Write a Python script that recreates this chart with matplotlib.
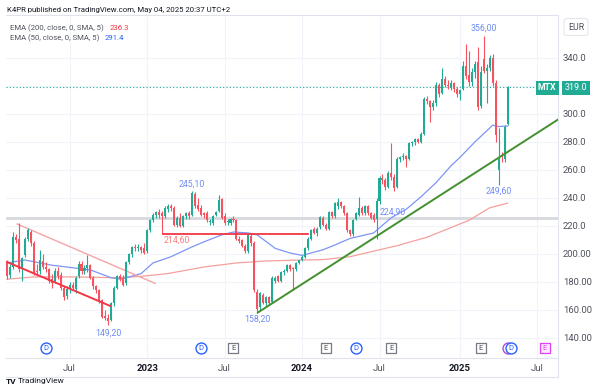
import numpy as np
import pandas as pd
import matplotlib
matplotlib.use("Agg")
import matplotlib.pyplot as plt
from matplotlib.lines import Line2D
from matplotlib.transforms import blended_transform_factory

plt.rcParams['font.family'] = ['Roboto', 'DejaVu Sans']

# ---- weekly OHLC, MTX (EUR), first candle week of 2022-02-07 ----
opens = [194, 185, 191, 212, 211, 189, 199, 211, 216, 208, 188, 188, 195, 191, 189, 182, 180, 188, 185, 176,
         170, 175, 178, 175, 184, 193, 188, 190, 192, 183, 177, 174, 167, 156, 154, 153, 165, 176, 184, 183,
         179, 194, 200, 205, 204, 205, 204, 202, 217, 224, 228, 230, 229, 227, 232, 234, 233, 221, 226, 220,
         227, 229, 228, 243, 235, 233, 229, 229, 223, 222, 228, 231, 239, 227, 223, 222, 225, 224, 211, 210,
         206, 202, 213, 208, 173, 162, 171, 165, 169, 166, 181, 184, 181, 187, 188, 192, 190, 189, 193.6, 195.7,
         198, 204, 211, 218, 215, 219, 226, 221, 218, 230, 227, 234, 237, 234, 229, 217, 214, 225, 228, 233,
         229, 234, 229, 228, 225, 238, 254, 253, 248, 258, 255, 248, 268, 269, 270, 268, 279, 280, 282, 280,
         286, 311, 309, 305, 308, 321, 315, 325, 321, 319, 322, 318, 314, 318, 334, 328, 323, 330, 337, 306,
         339, 331, 333, 340, 322, 260, 271, 268, 293]
highs = [196, 193, 216, 214, 222, 198, 212, 218.6, 217, 209, 193, 203, 200, 194, 190, 186, 190, 191, 187, 177,
         177, 180, 180, 184, 195, 195, 192, 199, 193, 184, 178, 175, 168, 160, 157, 166, 177, 185, 186, 185,
         195, 201, 206, 207, 207, 206, 208, 218, 225, 229, 231, 232, 231, 234, 236, 236, 234, 227, 229, 228,
         230, 231, 245.1, 244, 240, 235, 230, 231, 225, 228, 231, 242, 240, 229, 225, 226, 227, 225, 213, 211,
         207, 214, 215, 209, 175, 173, 172, 170, 170, 184, 184, 185, 188, 189, 193, 193, 191, 194, 196, 199,
         205, 212, 218, 219, 219, 227, 227, 222, 231, 231, 237, 240, 238, 235, 230, 218, 225, 230, 240.7, 234,
         235, 235, 230, 229, 240, 256, 257, 254, 259, 279, 257, 269, 270, 272, 271, 280, 281, 283, 283, 287,
         312, 313, 310, 310, 323, 322, 333, 327, 324, 324, 323, 319, 318, 338, 350, 345, 333, 338, 348, 334,
         356, 336, 342, 343, 324, 290, 273, 292, 320]
lows = [182, 183, 189, 208, 187, 181, 198, 209, 206, 185, 184, 186, 189, 187, 179, 176, 179, 182, 174, 167,
        168, 172, 174, 172, 183, 186, 186, 187, 182, 175, 172, 165, 154, 153, 149.2, 152, 163, 175, 181, 177,
        178, 193, 198, 202, 202, 201, 200, 201, 216, 223, 226, 226, 214.6, 226, 230, 231, 220, 219, 219, 219,
        225, 225, 227, 233, 231, 227, 226, 223, 221, 221, 227, 230, 225, 221, 221, 221, 223, 210, 208, 205,
        201, 201, 206, 173, 158.2, 160, 164, 163, 164, 165, 179, 180, 180, 185, 187, 188, 174, 188, 193, 195,
        197, 203, 210, 214, 213, 218, 220, 217, 217, 226, 226, 232, 233, 228, 216, 213, 213, 224, 227, 228,
        228, 228, 225, 223, 211, 236, 250, 246, 247, 253, 245, 247, 266, 267, 262, 267, 277, 278, 279, 279,
        285, 307, 294, 303, 306, 312, 314, 319, 318, 317, 316, 312, 310, 317, 325, 320, 320, 326, 303, 304,
        329, 308, 331, 320, 280, 249.6, 266, 266, 292]
closes = [184, 191, 212, 210, 189, 197, 211, 217, 208, 186, 187, 196, 191, 189, 181, 179, 188, 184, 176, 169,
          175, 178, 176, 183, 193, 188, 190, 192, 183, 177, 174, 167, 155, 154, 152, 165, 176, 184, 182, 178,
          194, 200, 205, 204, 205, 203, 201, 217, 224, 228, 230, 228, 227, 233, 234.5, 233, 221, 226, 220, 227,
          229, 227, 243.6, 234, 232, 228, 228, 224, 223, 227, 230, 238.6, 226, 222, 223, 225, 224, 211, 209, 206,
          202, 213.6, 208, 174, 161, 172, 165, 169, 165, 183, 183, 181, 187, 188, 192, 189, 189, 193.6, 195.7, 198,
          204, 211, 217, 215, 218, 226.6, 221, 218, 230, 227, 236.4, 237, 234, 229, 217, 214, 224, 229, 233, 229,
          234, 229, 226, 224, 238, 254, 253, 248, 258, 255, 247, 268, 269, 270, 268, 279, 280, 282, 280, 286,
          311, 309, 305, 308, 321, 314, 325, 321, 320, 322, 318, 314, 317, 334, 327, 323, 330, 336, 305, 330,
          331, 333, 340, 322, 285, 268, 269, 291, 319]

# EMA(200) and EMA(50): (week index, value)
ema200_idx = [0, 9, 24, 37, 45, 54, 66, 77, 87, 95, 106, 115, 131, 141, 148, 155, 162, 168]
ema200_val = [182, 183.6, 183.6, 183, 184, 186, 190.7, 193.6, 195, 195.5, 196, 198, 206, 212, 218, 224, 233, 236.3]
ema50_idx = [0, 6, 15, 20, 28, 35, 38, 41, 45, 49, 55, 62, 66, 72, 76, 81, 84, 87, 90, 95, 99, 106, 110, 115,
             123, 129, 134, 139, 144, 149, 152, 157, 161, 163, 165, 168]
ema50_val = [193.6, 195.7, 192, 190.7, 188.6, 183, 182, 183.6, 186, 193.6, 198, 205, 208.6, 213.6, 215.7, 215,
             213.6, 208.8, 204, 200.7, 199, 203, 206.4, 211, 215, 226, 232, 241, 251, 263, 269, 280, 288, 292,
             291, 291.4]

price_labels = ["149,20", "245,10", "158,20", "224,90", "356,00", "249,60"]
label_idx = [34, 62, 84, 124, 160, 165]
label_val = [149.2, 245.1, 158.2, 224.9, 356.0, 249.6]

div_dates = ["2022-05-09", "2023-05-08", "2024-05-06", "2025-05-05"]
earn_dates = ["2023-07-24", "2024-02-26", "2024-07-29", "2025-02-24"]
next_earn = "2025-07-24"

price_ticks = [140, 160, 180, 200, 220, 240, 260, 280, 300, 320, 340]
price_tick_labels = ["140.00", "160.00", "180.00", "200.00", "220.0", "240.0", "260.0", "280.0", "300.0", "", "340.0"]
date_ticks = ["2022-07-04", "2023-01-02", "2023-07-03", "2024-01-01", "2024-07-01", "2025-01-06", "2025-07-07"]
date_tick_labels = ["Jul", "2023", "Jul", "2024", "Jul", "2025", "Jul"]

start = pd.Timestamp("2022-02-07")
def week_index(d):
    return (pd.Timestamp(d) - start).days / 7.0

# ---- figure ----
W, H = 600, 392
def fx(px):
    return px / W
def fy(py):
    return 1 - py / H

UP, DOWN = "#22ab94", "#f7525f"
GRID = "#f0f3fa"
BORDER = "#e0e3eb"
TXT = "#131722"

fig = plt.figure(figsize=(6, 3.92), dpi=100)
ax = fig.add_axes([fx(6), fy(358), fx(558) - fx(6), fy(15) - fy(358)])
ax.set_xlim(-0.34, 184.9)
ax.set_ylim(125.7, 370.7)

idx = np.arange(len(closes))
o, h, l, c = map(np.array, (opens, highs, lows, closes))
cols = np.where(c >= o, UP, DOWN)
ax.vlines(idx, l, h, colors=cols, lw=0.8, zorder=3)
body = np.maximum(np.abs(c - o), 0.5)
ax.bar(idx, body, bottom=np.minimum(o, c), width=0.68, color=cols, zorder=4, linewidth=0)

# indicators
ax.plot(ema200_idx, ema200_val, color="#f4a09d", lw=0.9, zorder=2)
ax.plot(ema50_idx, ema50_val, color="#7d95f5", lw=0.9, zorder=2)

# drawings
ax.axhline(226.0, color="#d6d8de", lw=2.0, zorder=1)
ax.plot([3.4, 49.7], [221.4, 179.0], color="#f7a4a6", lw=1.0, zorder=2)
ax.plot([0.0, 34.6], [194.3, 162.9], color="#f23645", lw=1.4, zorder=5)
ax.plot([52.3, 101.0], [214.6, 214.6], color="#f23645", lw=1.3, zorder=5)
ax.plot([84.2, 190.0], [158.2, 303.0], color="#43902f", lw=1.4, zorder=5)
ax.axhline(closes[-1], color=UP, lw=0.8, ls=(0, (1, 2)), zorder=1)

# price labels
offsets = [(0, -8), (0, 7), (0, -7), (16, 7), (0, 7), (0, -7)]
for t, xi, yv, off in zip(price_labels, label_idx, label_val, offsets):
    ax.annotate(t, (xi, yv), xytext=(off[0] * 0.72, off[1] * 0.72), textcoords="offset points",
                ha="center", va="center", fontsize=6.3, color="#6f8cf6", zorder=6)
ax.annotate("214,60", (57, 214.6), xytext=(0, -5), textcoords="offset points",
            ha="center", va="center", fontsize=6.3, color="#f77c80", zorder=6)

# event markers along the bottom of the pane
trans = blended_transform_factory(ax.transData, ax.transAxes)
ym = (358 - 348) / 343.0
for d in div_dates:
    xi = week_index(d)
    if d == div_dates[-1]:
        ax.scatter([xi - 1.0], [ym], s=62, marker="o", facecolor="white", edgecolor="#b04ad8",
                   lw=1.0, transform=trans, zorder=7, clip_on=False)
    ax.scatter([xi], [ym], s=62, marker="o", facecolor="white", edgecolor="#2962ff", lw=1.0,
               transform=trans, zorder=8, clip_on=False)
    ax.text(xi, ym, "D", transform=trans, ha="center", va="center", fontsize=5.5, color="#2962ff", zorder=9)
for d in earn_dates:
    xi = week_index(d)
    ax.scatter([xi], [ym], s=55, marker="s", facecolor="white", edgecolor="#787b86", lw=0.9,
               transform=trans, zorder=8, clip_on=False)
    ax.text(xi, ym, "E", transform=trans, ha="center", va="center", fontsize=5.5, color="#50535e", zorder=9)
xi = week_index(next_earn)
ax.scatter([xi], [ym], s=55, marker="s", facecolor="#fbeafe", edgecolor="#e040fb", lw=0.9,
           transform=trans, zorder=8, clip_on=False)
ax.text(xi, ym, "E", transform=trans, ha="center", va="center", fontsize=5.5, color="#e040fb", zorder=9)

# axes styling
ax.yaxis.tick_right()
ax.set_yticks(price_ticks)
ax.set_yticklabels(price_tick_labels)
ax.tick_params(axis="y", length=0, pad=3.6, labelsize=6.8, labelcolor="#50535e")
ax.set_xticks([week_index(d) for d in date_ticks])
ax.set_xticklabels(date_tick_labels)
ax.tick_params(axis="x", length=0, pad=4.5, labelsize=6.8, labelcolor="#50535e")
for lab in ax.get_xticklabels():
    if lab.get_text() != "Jul":
        lab.set_fontweight("bold")
        lab.set_color(TXT)
ax.grid(True, color=GRID, lw=0.8, zorder=0)
ax.set_axisbelow(True)
for s in ax.spines.values():
    s.set_color(BORDER)
    s.set_linewidth(0.8)
ax.spines["left"].set_visible(False)

fig.add_artist(Line2D([fx(6), fx(558)], [fy(377), fy(377)], color=BORDER, lw=0.8))
fig.add_artist(Line2D([fx(558), fx(558)], [fy(358), fy(377)], color=BORDER, lw=0.8))

# last price tags
fig.text(fx(547), fy(88), "MTX", ha="center", va="center", fontsize=6.3, color="white", fontweight="bold",
         bbox=dict(boxstyle="square,pad=0.25", fc=UP, ec="none"))
fig.text(fx(576), fy(88), f"{closes[-1]:.1f}", ha="center", va="center", fontsize=6.5, color="white",
         bbox=dict(boxstyle="square,pad=0.3", fc=UP, ec="none"))
fig.text(fx(576), fy(27), "EUR", ha="center", va="center", fontsize=6.3, color="#50535e",
         bbox=dict(boxstyle="round,pad=0.45,rounding_size=0.3", fc="white", ec=BORDER, lw=0.7))

# header / legend / footer
fig.text(fx(7), fy(10), "K4PR published on TradingView.com, May 04, 2025 20:37 UTC+2",
         ha="left", va="center", fontsize=5.6, color=TXT)
fig.text(fx(10), fy(28), "EMA (200, close, 0, SMA, 5)", ha="left", va="center", fontsize=5.6, color="#50535e")
fig.text(fx(110), fy(28), f"{ema200_val[-1]:.1f}", ha="left", va="center", fontsize=5.6, color="#f23645")
fig.text(fx(10), fy(38), "EMA (50, close, 0, SMA, 5)", ha="left", va="center", fontsize=5.6, color="#50535e")
fig.text(fx(105), fy(38), f"{ema50_val[-1]:.1f}", ha="left", va="center", fontsize=5.6, color="#2962ff")
fig.text(fx(6), fy(381), "TV", ha="left", va="center", fontsize=6, color=TXT, fontweight="bold")
fig.text(fx(18), fy(381), "TradingView", ha="left", va="center", fontsize=6, color=TXT)

fig.savefig("out.png", dpi=100)
